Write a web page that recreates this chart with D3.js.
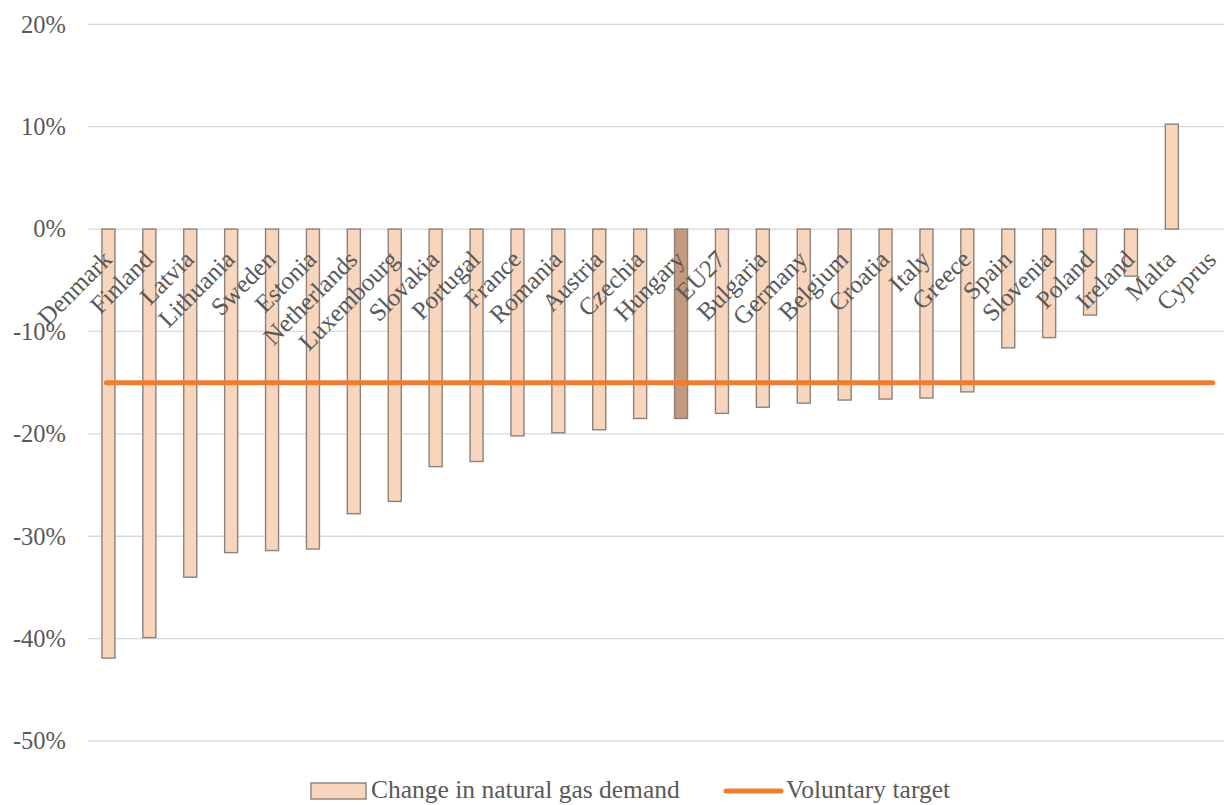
<!DOCTYPE html>
<html>
<head>
<meta charset="utf-8">
<script src="https://cdn.jsdelivr.net/npm/d3@7"></script>
<style>
  html, body { margin: 0; padding: 0; background: #fff; overflow: hidden; }
  svg { display: block; }
  text { font-family: "Liberation Serif", "Times New Roman", serif; fill: #595959; }
</style>
</head>
<body>
<svg id="chart" width="1224" height="805"></svg>
<script>
const categories = ["Denmark","Finland","Latvia","Lithuania","Sweden","Estonia","Netherlands","Luxembourg","Slovakia","Portugal","France","Romania","Austria","Czechia","Hungary","EU27","Bulgaria","Germany","Belgium","Croatia","Italy","Greece","Spain","Slovenia","Poland","Ireland","Malta","Cyprus"];
const demandChange = [-41.9,-39.9,-34.0,-31.6,-31.4,-31.25,-27.8,-26.6,-23.2,-22.7,-20.2,-19.9,-19.6,-18.5,-18.5,-18.0,-17.4,-17.0,-16.7,-16.6,-16.5,-15.9,-11.6,-10.6,-8.4,-4.6,10.25,null];
const highlighted = ["Hungary"];
const voluntaryTarget = -15;
const yTicks = [20,10,0,-10,-20,-30,-40,-50];
const legendLabels = ["Change in natural gas demand","Voluntary target"];

const svg = d3.select("#chart");
const plotLeft = 88, band = 40.9;
const x = d3.scaleBand().domain(categories).range([plotLeft, plotLeft + band * categories.length]).paddingInner(0).paddingOuter(0);
const y = d3.scaleLinear().domain([-50, 20]).range([741, 24.3]);

// gridlines
svg.append("g").selectAll("line").data(yTicks).join("line")
  .attr("x1", plotLeft).attr("x2", 1224)
  .attr("y1", d => y(d)).attr("y2", d => y(d))
  .attr("stroke", "#d9d9d9").attr("stroke-width", 1.3);

// y axis labels
const yAxis = d3.axisLeft(y).tickValues(yTicks).tickSize(0).tickPadding(0).tickFormat(d => d + "%");
const yg = svg.append("g").attr("transform", "translate(66,0)").call(yAxis);
yg.select(".domain").remove();
yg.selectAll("text").style("font-family", "Liberation Serif, serif").style("font-size", "24.5px").attr("fill", "#595959");

// bars
const barW = 13;
const barData = categories.map((c, i) => ({c, v: demandChange[i]})).filter(d => d.v !== null);
svg.append("g").selectAll("rect").data(barData).join("rect")
  .attr("x", d => x(d.c) + band / 2 - barW / 2)
  .attr("width", barW)
  .attr("y", d => y(Math.max(0, d.v)))
  .attr("height", d => Math.abs(y(d.v) - y(0)))
  .attr("fill", d => highlighted.includes(d.c) ? "#c39a7e" : "#f8d6bd")
  .attr("stroke", "#8f8079").attr("stroke-width", 1.4);

// category labels
svg.append("g").selectAll("text").data(categories).join("text")
  .attr("transform", d => `translate(${x(d) + band / 2 + 5},261) rotate(-45)`)
  .attr("text-anchor", "end")
  .style("font-size", "25px")
  .text(d => d);

// target line
const line = d3.line().x((d, i) => x(d) + band / 2 + (i === 0 ? -2 : 0)).y(() => y(voluntaryTarget));
svg.append("path").datum([categories[0], categories[categories.length - 1]])
  .attr("d", line).attr("fill", "none")
  .attr("stroke", "#ed7d31").attr("stroke-width", 5).attr("stroke-linecap", "round");

// legend
const lg = svg.append("g");
lg.append("rect").attr("x", 311).attr("y", 783).attr("width", 55).attr("height", 16)
  .attr("fill", "#f8d6bd").attr("stroke", "#8f8079").attr("stroke-width", 1.4);
lg.append("text").attr("x", 371).attr("y", 798).style("font-size", "25.5px").text(legendLabels[0]);
lg.append("line").attr("x1", 726).attr("x2", 781).attr("y1", 791).attr("y2", 791)
  .attr("stroke", "#ed7d31").attr("stroke-width", 5).attr("stroke-linecap", "round");
lg.append("text").attr("x", 786).attr("y", 798).style("font-size", "25.5px").text(legendLabels[1]);
</script>
</body>
</html>
